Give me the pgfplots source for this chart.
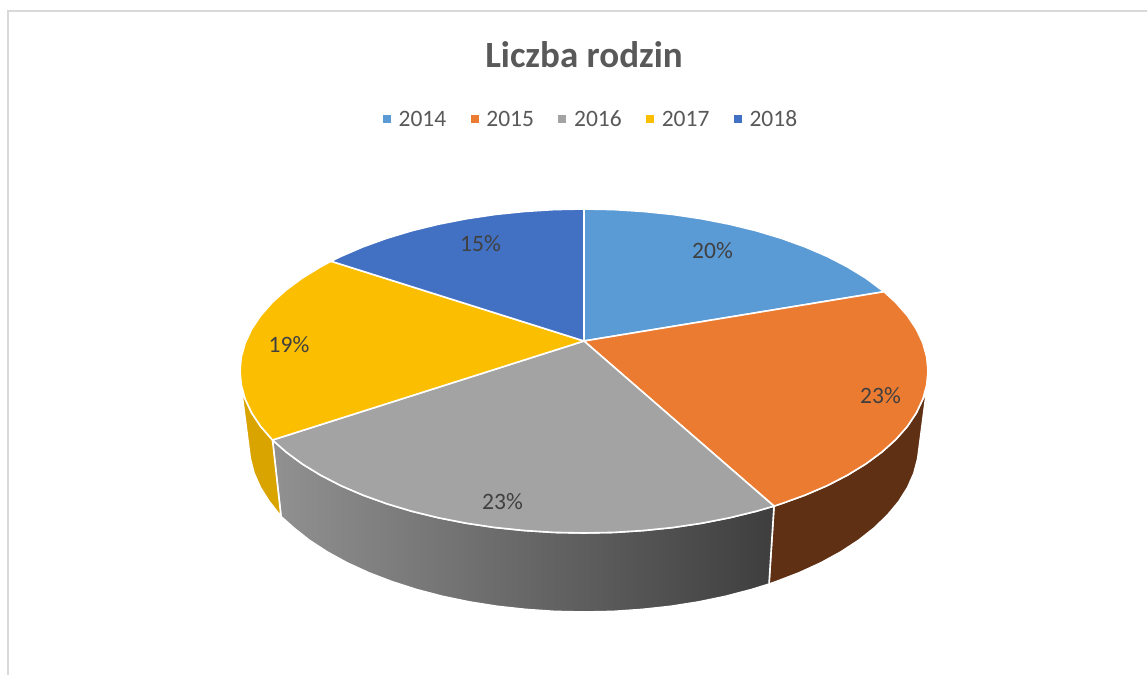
\documentclass[border=0pt]{standalone}
\usepackage{fontspec}
\setmainfont{Carlito}
\usepackage{pgfplots}
\pgfplotsset{compat=1.18}
\definecolor{c14}{HTML}{5B9BD5}
\definecolor{c15}{HTML}{EB7B31}
\definecolor{c16}{HTML}{A3A3A3}
\definecolor{c17}{HTML}{FCBE00}
\definecolor{c18}{HTML}{4270C2}
\definecolor{side15}{HTML}{5F3014}
\definecolor{side17}{HTML}{D9A300}
\definecolor{gl}{HTML}{919191}
\definecolor{gr}{HTML}{3E3E3E}
\definecolor{txt}{HTML}{595959}
\definecolor{lab}{HTML}{404040}
\definecolor{frame}{HTML}{D9D9D9}
\begin{document}
\begin{tikzpicture}
\begin{axis}[
  scale only axis, width=1147pt, height=675pt,
  xmin=0, xmax=1147, ymin=0, ymax=675, y dir=reverse,
  hide axis, clip=true,
  legend columns=5,
  legend style={draw=none, fill=none, at={(382pt,-122pt)}, anchor=west,
    font=\fontsize{23.5}{27}\selectfont\color{txt}, inner sep=0pt, outer sep=0pt,
    nodes={text height=1.4ex, text depth=0pt},
    /tikz/every even column/.append style={column sep=21.5pt}},
  legend image code/.code={\path (0pt,0pt) (13pt,0pt); \path[#1, draw=none] (0pt,0pt) rectangle (8pt,8pt);},
]
% page ground
\addplot[draw=none, fill=white, forget plot] coordinates {(0,0) (1147,0) (1147,675) (0,675)} -- cycle;
% frame
\addplot[frame, line width=2.6pt, forget plot] coordinates {(8,675) (8,11)};
\addplot[frame, line width=1.6pt, forget plot] coordinates {(7,11) (1147,11)};
% sides
\addplot[draw=white, line width=1.6pt, fill=side15, forget plot] coordinates {
 (926.5,391) (922.8,399.1) (916.3,412.9) (907.3,426.4) (895.8,439.5) (881.9,452) (865.8,463.9) (847.5,475.1) (827.2,485.6) (805.1,495.1) (781.3,503.7) (774,506.1)
 (769,584.1) (776.1,581.6) (799.3,572.7) (820.9,562.8) (840.6,552) (858.4,540.4) (874.1,528) (887.6,515) (898.8,501.5) (907.6,487.5) (913.9,473.2) (917.7,458.6)
} -- cycle;
\addplot[draw=white, line width=1.6pt, left color=gl, right color=gr, forget plot] coordinates {
 (774,506.1) (756,511.3) (729.4,517.8) (701.7,523.2) (673,527.5) (643.7,530.5) (614,532.4) (584,533) (554,532.4) (524.3,530.5) (495,527.5) (466.3,523.2) (438.6,517.8) (412,511.3) (386.7,503.7) (362.9,495.1) (340.8,485.6) (320.5,475.1) (302.2,463.9) (286.1,452) (272.5,440)
 (281,516.5) (293.9,528) (309.6,540.4) (327.4,552) (347.1,562.8) (368.7,572.7) (391.9,581.6) (416.5,589.5) (442.4,596.3) (469.4,601.9) (497.3,606.3) (525.8,609.4) (554.8,611.4) (584,612) (613.2,611.4) (642.2,609.4) (670.7,606.3) (698.6,601.9) (725.6,596.3) (751.5,589.5) (769,584.1)
} -- cycle;
\addplot[draw=white, line width=1.6pt, fill=side17, forget plot] coordinates {
 (272.5,440) (260.7,426.4) (251.7,412.9) (245.2,399.1) (241.6,391)
 (250.3,458.6) (254.1,473.2) (260.4,487.5) (269.2,501.5) (281,516.5)
} -- cycle;
% top slices
\addplot[draw=white, line width=1.6pt, fill=c14] coordinates {
 (584,341) (584,209) (614,209.6) (643.7,211.5) (673,214.5) (701.7,218.8) (729.4,224.2) (756,230.7) (781.3,238.3) (805.1,246.9) (827.2,256.4) (847.5,266.9) (865.8,278.1) (884,291.7)
} -- cycle;
\addlegendentry{2014}
\addplot[draw=white, line width=1.6pt, fill=c15] coordinates {
 (584,341) (884,291.7) (895.8,302.5) (907.3,315.6) (916.3,329.1) (922.8,342.9) (926.7,356.9) (928,371) (926.7,385.1) (922.8,399.1) (916.3,412.9) (907.3,426.4) (895.8,439.5) (881.9,452) (865.8,463.9) (847.5,475.1) (827.2,485.6) (805.1,495.1) (781.3,503.7) (774,506.1)
} -- cycle;
\addlegendentry{2015}
\addplot[draw=white, line width=1.6pt, fill=c16] coordinates {
 (584,341) (774,506.1) (756,511.3) (729.4,517.8) (701.7,523.2) (673,527.5) (643.7,530.5) (614,532.4) (584,533) (554,532.4) (524.3,530.5) (495,527.5) (466.3,523.2) (438.6,517.8) (412,511.3) (386.7,503.7) (362.9,495.1) (340.8,485.6) (320.5,475.1) (302.2,463.9) (286.1,452) (272.5,440)
} -- cycle;
\addlegendentry{2016}
\addplot[draw=white, line width=1.6pt, fill=c17] coordinates {
 (584,341) (272.5,440) (260.7,426.4) (251.7,412.9) (245.2,399.1) (241.3,385.1) (240,371) (241.3,356.9) (245.2,342.9) (251.7,329.1) (260.7,315.6) (272.2,302.5) (286.1,290) (302.2,278.1) (320.5,266.9) (331,261.2)
} -- cycle;
\addlegendentry{2017}
\addplot[draw=white, line width=1.6pt, fill=c18] coordinates {
 (584,341) (331,261.2) (340.8,256.4) (362.9,246.9) (386.7,238.3) (412,230.7) (438.6,224.2) (466.3,218.8) (495,214.5) (524.3,211.5) (554,209.6) (584,209)
} -- cycle;
\addlegendentry{2018}
% labels
\node[font=\fontsize{23.5}{28}\selectfont, text=lab] at (axis cs:712.5,251) {20\%};
\node[font=\fontsize{23.5}{28}\selectfont, text=lab] at (axis cs:880.5,396) {23\%};
\node[font=\fontsize{23.5}{28}\selectfont, text=lab] at (axis cs:502.5,502) {23\%};
\node[font=\fontsize{23.5}{28}\selectfont, text=lab] at (axis cs:289,345) {19\%};
\node[font=\fontsize{23.5}{28}\selectfont, text=lab] at (axis cs:480.5,244) {15\%};
\node[font=\fontsize{37}{44}\bfseries\selectfont, text=txt] at (axis cs:584,55) {Liczba rodzin};
\end{axis}
\end{tikzpicture}
\end{document}
